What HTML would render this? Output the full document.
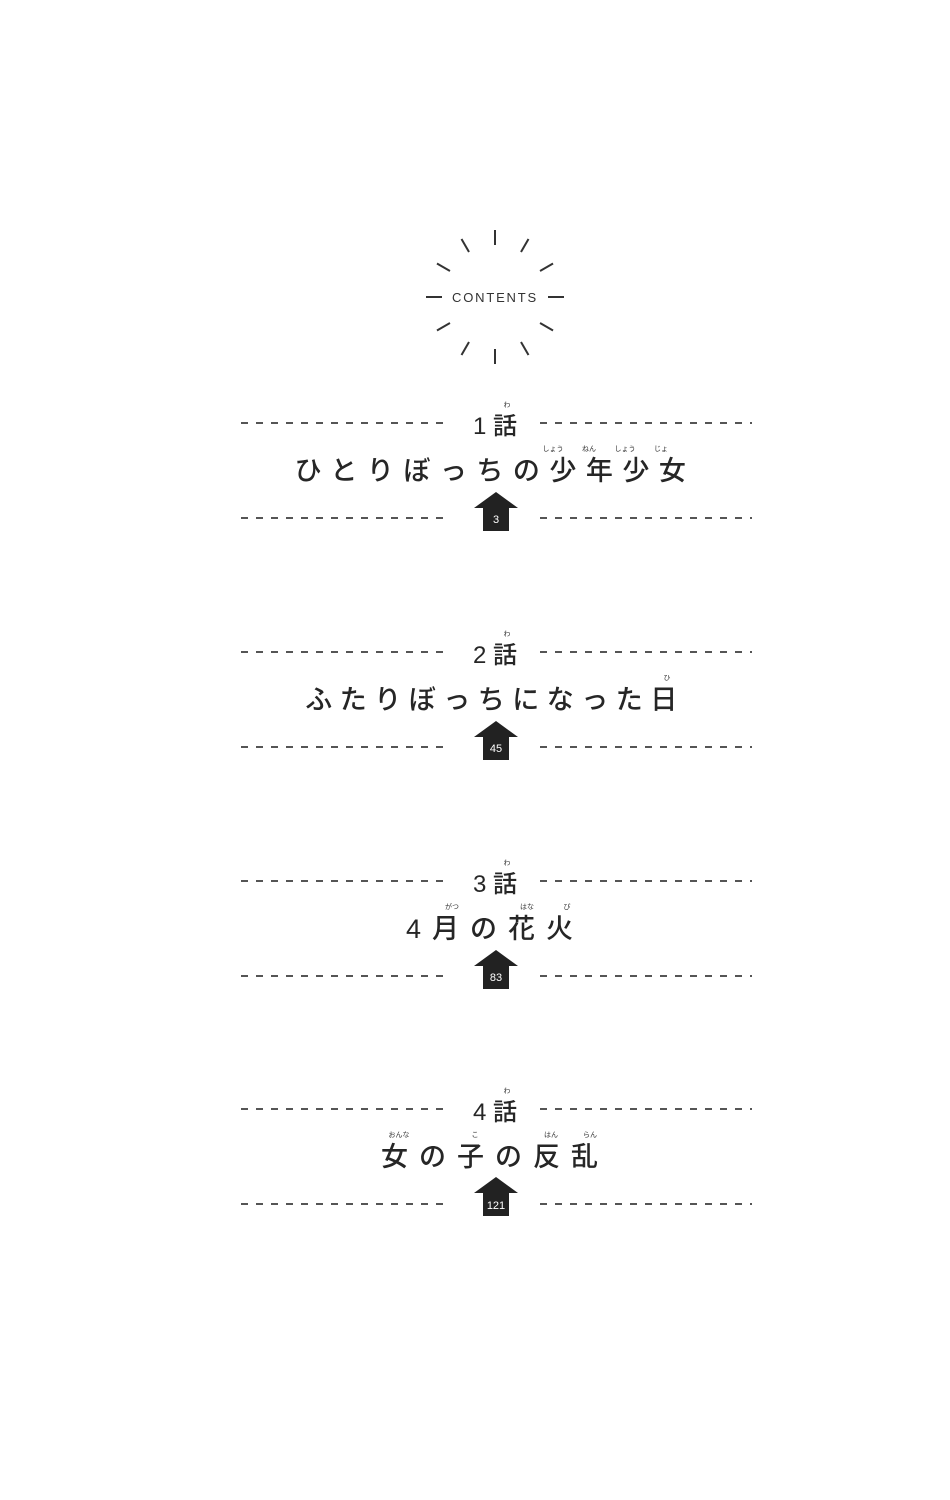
<!DOCTYPE html>
<html><head><meta charset="utf-8"><style>
body{margin:0;background:#fff;}
#p{position:relative;width:950px;height:1500px;overflow:hidden;background:#fff;font-family:"Liberation Sans","Noto Sans CJK JP",sans-serif;color:#262626;}
.d{position:absolute;height:2px;background:repeating-linear-gradient(90deg,#555 0 7px,transparent 7px 15px);}
.c{position:absolute;left:20px;width:950px;text-align:center;white-space:nowrap;}
.ch{font-size:24px;font-weight:500;}
.t{font-size:27px;font-weight:500;}
.r{position:absolute;font-size:7px;color:#333;transform:translateX(-50%);white-space:nowrap;}
.h{position:absolute;left:474px;width:44px;}
</style></head><body><div id="p">

<svg style="position:absolute;left:0;top:0" width="950" height="400">
<g stroke="#333" stroke-width="2" transform="translate(495,297)">
<line x1="0" y1="-52" x2="0" y2="-67"/>
<line x1="0" y1="-52" x2="0" y2="-67" transform="rotate(30)"/>
<line x1="0" y1="-52" x2="0" y2="-67" transform="rotate(60)"/>
<line x1="0" y1="-53" x2="0" y2="-69" transform="rotate(90)"/>
<line x1="0" y1="-52" x2="0" y2="-67" transform="rotate(120)"/>
<line x1="0" y1="-52" x2="0" y2="-67" transform="rotate(150)"/>
<line x1="0" y1="-52" x2="0" y2="-67" transform="rotate(180)"/>
<line x1="0" y1="-52" x2="0" y2="-67" transform="rotate(210)"/>
<line x1="0" y1="-52" x2="0" y2="-67" transform="rotate(240)"/>
<line x1="0" y1="-53" x2="0" y2="-69" transform="rotate(270)"/>
<line x1="0" y1="-52" x2="0" y2="-67" transform="rotate(300)"/>
<line x1="0" y1="-52" x2="0" y2="-67" transform="rotate(330)"/>
</g>
<text x="495" y="302" text-anchor="middle" font-family="Liberation Sans" font-size="13" letter-spacing="1.8" fill="#333">CONTENTS</text>
</svg>

<!-- section 1 -->
<div class="d" style="left:241px;width:210px;top:422px"></div><div class="d" style="left:540px;width:212px;top:422px"></div>
<div class="c ch" style="top:406px">1 話</div><div class="r" style="left:507px;top:400px">わ</div>
<div class="c t" style="top:449px;letter-spacing:9.5px">ひとりぼっちの少年少女</div>
<div class="r" style="left:553px;top:444px">しょう</div><div class="r" style="left:589px;top:444px">ねん</div><div class="r" style="left:625px;top:444px">しょう</div><div class="r" style="left:661px;top:444px">じょ</div>
<div class="d" style="left:241px;width:210px;top:517px"></div><div class="d" style="left:540px;width:212px;top:517px"></div>
<svg class="h" style="top:492px" width="44" height="40"><polygon points="22,0 44,16 35,16 35,39 9,39 9,16 0,16" fill="#222"/><text x="22" y="31" fill="#fff" font-size="11" text-anchor="middle" font-family="Liberation Sans">3</text></svg>

<!-- section 2 -->
<div class="d" style="left:241px;width:210px;top:651px"></div><div class="d" style="left:540px;width:212px;top:651px"></div>
<div class="c ch" style="top:635px">2 話</div><div class="r" style="left:507px;top:629px">わ</div>
<div class="c t" style="top:678px;letter-spacing:7.5px">ふたりぼっちになった日</div>
<div class="r" style="left:667px;top:673px">ひ</div>
<div class="d" style="left:241px;width:210px;top:746px"></div><div class="d" style="left:540px;width:212px;top:746px"></div>
<svg class="h" style="top:721px" width="44" height="40"><polygon points="22,0 44,16 35,16 35,39 9,39 9,16 0,16" fill="#222"/><text x="22" y="31" fill="#fff" font-size="11" text-anchor="middle" font-family="Liberation Sans">45</text></svg>

<!-- section 3 -->
<div class="d" style="left:241px;width:210px;top:880px"></div><div class="d" style="left:540px;width:212px;top:880px"></div>
<div class="c ch" style="top:864px">3 話</div><div class="r" style="left:507px;top:858px">わ</div>
<div class="c t" style="top:907px;letter-spacing:11px">4月の花火</div>
<div class="r" style="left:452px;top:902px">がつ</div><div class="r" style="left:527px;top:902px">はな</div><div class="r" style="left:567px;top:902px">び</div>
<div class="d" style="left:241px;width:210px;top:975px"></div><div class="d" style="left:540px;width:212px;top:975px"></div>
<svg class="h" style="top:950px" width="44" height="40"><polygon points="22,0 44,16 35,16 35,39 9,39 9,16 0,16" fill="#222"/><text x="22" y="31" fill="#fff" font-size="11" text-anchor="middle" font-family="Liberation Sans">83</text></svg>

<!-- section 4 -->
<div class="d" style="left:241px;width:210px;top:1108px"></div><div class="d" style="left:540px;width:212px;top:1108px"></div>
<div class="c ch" style="top:1092px">4 話</div><div class="r" style="left:507px;top:1086px">わ</div>
<div class="c t" style="top:1135px;letter-spacing:11px">女の子の反乱</div>
<div class="r" style="left:399px;top:1130px">おんな</div><div class="r" style="left:475px;top:1130px">こ</div><div class="r" style="left:551px;top:1130px">はん</div><div class="r" style="left:590px;top:1130px">らん</div>
<div class="d" style="left:241px;width:210px;top:1203px"></div><div class="d" style="left:540px;width:212px;top:1203px"></div>
<svg class="h" style="top:1177px" width="44" height="40"><polygon points="22,0 44,16 35,16 35,39 9,39 9,16 0,16" fill="#222"/><text x="22" y="32" fill="#fff" font-size="11" text-anchor="middle" font-family="Liberation Sans">121</text></svg>

</div></body></html>
